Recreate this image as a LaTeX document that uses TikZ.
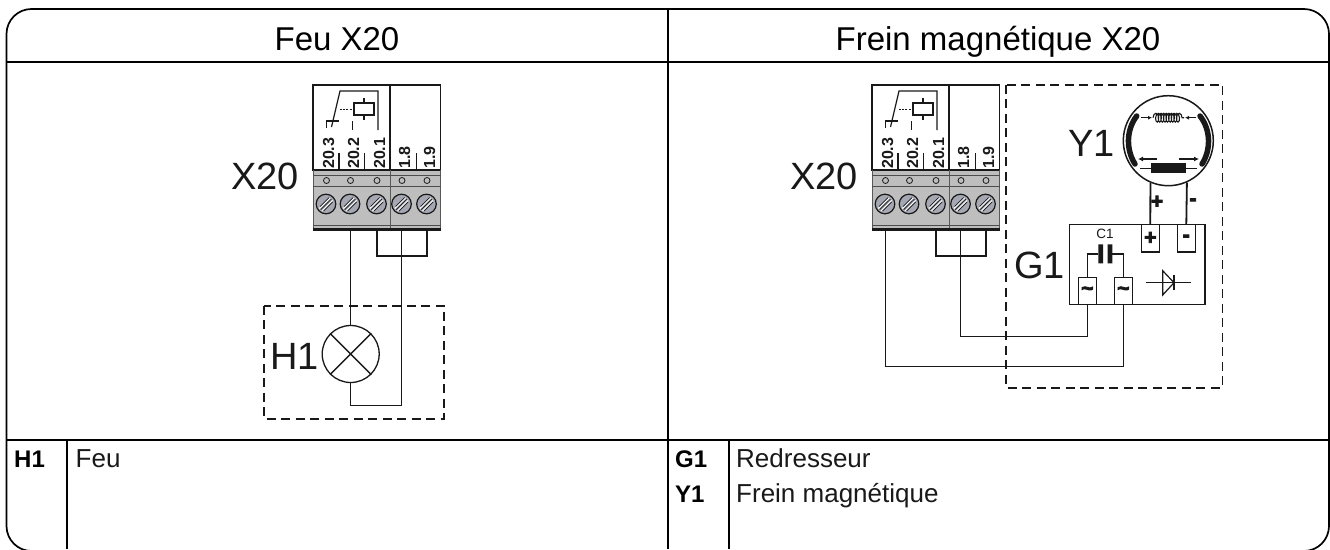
\documentclass[tikz,border=0pt]{standalone}
\usepackage{fontspec}
\setmainfont{Liberation Sans}
\newfontfamily\heavyfont[BoldFeatures={FakeBold=4}]{Liberation Sans}
\usetikzlibrary{arrows.meta,decorations.pathmorphing,calc}
\definecolor{blockgray}{RGB}{190,190,190}
\definecolor{screwgray}{RGB}{165,168,178}
\definecolor{ink}{RGB}{25,25,25}
\tikzset{
  x=1pt,y=-1pt,
  frameline/.style={line width=1.7pt,black},
  wire/.style={line width=1.4pt,ink},
  fatwire/.style={line width=2.2pt,ink},
  bigdash/.style={line width=1.8pt,ink,dash pattern=on 9pt off 5.5pt},
  boxline/.style={line width=1.2pt,ink},
  titletext/.style={font=\fontsize{33}{36}\selectfont,anchor=base,inner sep=0pt,text=black},
  bigtext/.style={font=\fontsize{38}{42}\selectfont,anchor=base west,inner sep=0pt,text=ink},
  bodytext/.style={font=\fontsize{26}{28}\selectfont,anchor=base west,inner sep=0pt,text=ink},
  keytext/.style={font=\fontsize{24}{28}\selectfont\bfseries,anchor=base west,inner sep=0pt,text=black},
  termtext/.style={font=\fontsize{16}{16}\selectfont\bfseries,rotate=90,anchor=base west,inner sep=0pt,text=ink},
  terminal/.style={draw=ink,line width=1.2pt,fill=white,minimum width=18pt,minimum height=27.5pt,inner sep=0pt,font=\heavyfont\bfseries\fontsize{21}{21}\selectfont,text=ink},
  signtext/.style={font=\heavyfont\bfseries\fontsize{21}{21}\selectfont,inner sep=0pt,text=ink},
  block/.pic={
    \fill[blockgray] (0,170) rectangle (127.5,230);
    \draw[line width=1.9pt,ink] (0,170) -- (0,85) -- (127.5,85) -- (127.5,170);
    \draw[line width=1.9pt,ink] (77,85) -- (77,170);
    \draw[line width=1.9pt,ink] (-.9,170) -- (128.4,170);
    \draw[line width=.7pt,black!65] (0,170) -- (0,230) (127.5,170) -- (127.5,230) (77,170) -- (77,229);
    \draw[line width=.9pt,black!70] (0,175.5) -- (127.5,175.5);
    \draw[line width=1.5pt,black!70] (0,186.5) -- (127.5,186.5);
    \draw[line width=.8pt,black!70] (0,225) -- (127.5,225);
    \fill[ink] (0,227.8) rectangle (127.5,230.5);
    \foreach \hx in {13.5,37.5,64,89,114}{
      \draw[line width=.8pt,ink,fill=blockgray] (\hx,180.5) circle (3);
      \draw[line width=1.2pt,ink,fill=screwgray] (\hx-.5,204) circle (9.8);
      \draw[line width=1pt,white] (\hx-7.2,208.5) -- (\hx+3.5,198) (\hx-4.5,211) -- (\hx+6,200.5);
      \draw[line width=.7pt,ink] (\hx-6.5,206.5) -- (\hx+2.5,197.5) (\hx-5.8,209.7) -- (\hx+4.8,199.2) (\hx-3,211) -- (\hx+6,202);
    }
    \node[termtext] (-n1) at (21,169) {20.3};
    \node[termtext] (-n2) at (46,169) {20.2};
    \node[termtext] (-n3) at (72,169) {20.1};
    \node[termtext] (-n4) at (97,169) {1.8};
    \node[termtext] (-n5) at (122,169) {1.9};
    \draw[boxline] (26,153) -- (26,170) (51.5,153) -- (51.5,170) (103.5,153) -- (103.5,170);
    % relay symbol
    \draw[boxline] (13.5,128) -- (13.5,121) -- (26,121);
    \draw[boxline] (39.5,121) -- (39.5,130);
    \draw[boxline] (18.5,127) -- (27,91) -- (65,91) -- (65,130);
    \draw[boxline] (41,103) rectangle (61,115);
    \draw[boxline] (51,98) -- (51,103) (51,115) -- (51,120);
    \draw[line width=1.6pt,ink,dash pattern=on 2pt off 1.2pt] (27,109.5) -- (41,109.5);
    \coordinate (-t1) at (13.3,230);
    \coordinate (-t2) at (37.7,230);
    \coordinate (-t3) at (64,230);
    \coordinate (-t4) at (88.7,230);
    \coordinate (-t5) at (114,230);
  }
}
\begin{document}
\begin{tikzpicture}
\useasboundingbox (0,0) rectangle (1330,549);
\fill[white] (0,0) rectangle (1330,549);
\begin{scope}
\clip (0,0) rectangle (1330,549);
\draw[frameline,rounded corners=25pt] (6.5,551) rectangle (1329,9);
\end{scope}
\draw[line width=2pt,black] (6.5,61.5) -- (1329,61.5);
\draw[line width=2pt,black] (6.5,440) -- (1329,440);
\draw[line width=1.6pt,black] (667.7,9) -- (667.7,549);
\draw[line width=1.6pt,black] (67,440) -- (67,549);
\draw[line width=1.6pt,black] (729,440) -- (729,549);
% titles
\node[titletext] (tl) at (337,50) {Feu X20};
\node[titletext] (tr) at (998,50) {Frein magnétique X20};
% table text
\node[keytext] (kh) at (14,467) {H1};
\node[bodytext] (vh) at (75.5,467) {Feu};
\node[keytext] (kg) at (675,467) {G1};
\node[keytext] (ky) at (675,502) {Y1};
\node[bodytext] (vg) at (736,467) {Redresseur};
\node[bodytext] (vy) at (736,502) {Frein magnétique};
% left panel
\pic (a) at (313,0) {block};
\node[bigtext] (xa) at (231,189) {X20};
\draw[bigdash] (264,305.7) rectangle (444,419);
\node[bigtext] (h1) at (270,369.5) {H1};
\node[draw=ink,line width=1.3pt,circle,minimum size=57pt,inner sep=0pt] (lamp) at (350.7,354) {};
\draw[wire] (lamp.45) -- (lamp.225) (lamp.135) -- (lamp.315);
\draw[wire] (a-t2) -- (lamp.north);
\draw[wire] (lamp.south) -- ([yshift=-22.5pt]lamp.south) -| (a-t4);
\draw[fatwire] (a-t3) |- ($(a-t3)+(0,26)$) -| (a-t5);
% right panel
\pic (b) at (872,0) {block};
\node[bigtext] (xb) at (790,189) {X20};
\draw[bigdash] (1006,84.7) rectangle (1222.5,387.7);
\node[bigtext] (y1) at (1068,156) {Y1};
\node[bigtext] (g1) at (1014,278) {G1};
% rectifier
\node[draw=ink,line width=1.2pt,minimum width=135.7pt,minimum height=80.4pt,inner sep=0pt] (rect) at (1137.2,264.5) {};
\node[terminal] (tp) at (1150.3,238.2) {\raisebox{-4.5pt}{+}};
\node[terminal] (tm) at (1186.3,238.2) {\raisebox{-4.5pt}{-}};
\node[terminal] (ta) at (1087.3,291) {\raisebox{-1pt}{\textasciitilde}};
\node[terminal] (tb) at (1123.3,291) {\raisebox{-1pt}{\textasciitilde}};
\node[font=\fontsize{13.5}{13.5}\selectfont,inner sep=0pt,text=ink] (c1) at (1105,234) {C1};
\fill[ink] (1098.3,244.3) rectangle (1103,263.3) (1107.7,244.3) rectangle (1112.3,263.3);
\draw[line width=1.4pt,ink] (ta.north) |- (1098.3,254);
\draw[line width=1.4pt,ink] (tb.north) |- (1112.3,254);
% diode
\draw[boxline] (1146,282.7) -- (1191,282.7);
\draw[boxline] (1162.7,270.7) -- (1162.7,295) -- (1174,282.7) -- cycle;
\draw[boxline] (1174,275) -- (1174,290);
% wires to rectifier
\draw[wire] (b-t4) |- (960,336.7) -| (ta.south);
\draw[wire] (b-t1) |- (885,366.7) -| (tb.south);
\draw[fatwire] (b-t3) |- ($(b-t3)+(0,26)$) -| (b-t5);
% brake
\node[draw=ink,line width=1.5pt,circle,minimum size=90pt,inner sep=0pt] (brake) at (1168.3,140.7) {};
\draw[line width=1.8pt,ink] (brake.-113.6) -- (tp.north);
\draw[line width=1.8pt,ink] (brake.-66.4) -- (tm.north);
\node[signtext] (sp) at (1157,202) {+};
\node[signtext] (sm) at (1193,202) {-};
\draw[line width=5.5pt,ink,line cap=round] (1136.7,116) .. controls (1126,130) and (1126,150) .. (1135,164);
\draw[line width=5.5pt,ink,line cap=round] (1200,116) .. controls (1211,130) and (1211,150) .. (1202,164);
\fill[ink] (1151,163.3) rectangle (1185.7,173.3);
\draw[line width=.9pt,ink] (1140,168) -- (1151,168) (1185.7,168) -- (1196.7,168);
\draw[line width=1.1pt,ink,decorate,decoration={coil,amplitude=4.4pt,segment length=2.6pt}] (1153,117.7) -- (1184,117.7);
\draw[line width=1.2pt,ink,-{Latex[length=4pt,width=4pt]}] (1141,117.7) -- (1152,117.7);
\draw[line width=1.2pt,ink,-{Latex[length=4pt,width=4pt]}] (1196,117.7) -- (1185,117.7);
\draw[line width=1.4pt,ink,-{Latex[length=5pt,width=5pt]}] (1157,159) -- (1138,159);
\draw[line width=1.4pt,ink,-{Latex[length=5pt,width=5pt]}] (1179,159) -- (1199,159);
\end{tikzpicture}
\end{document}
